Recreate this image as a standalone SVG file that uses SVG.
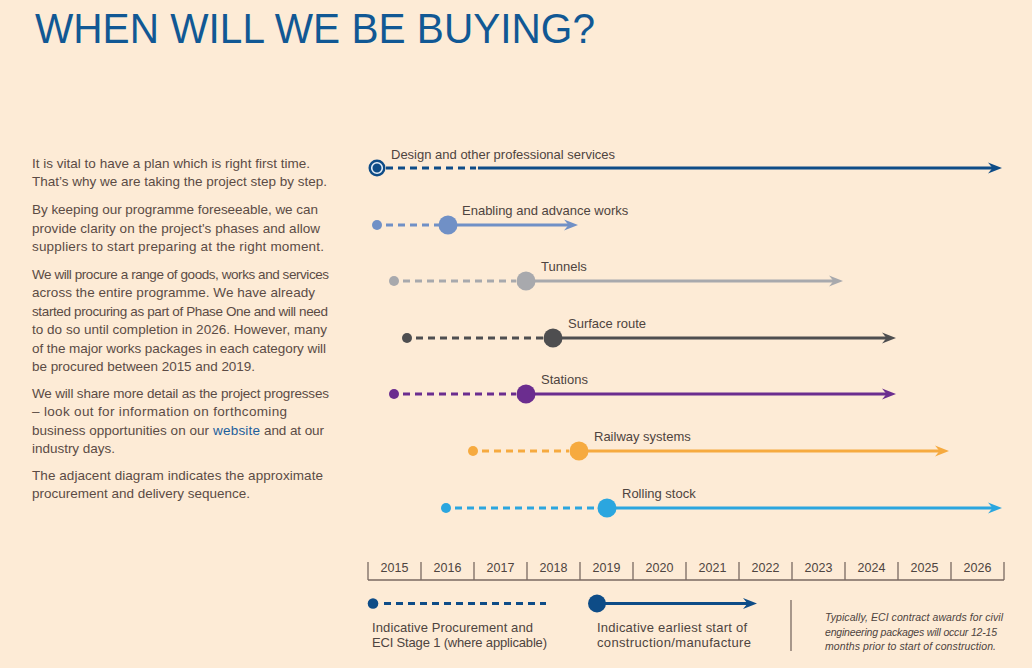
<svg xmlns="http://www.w3.org/2000/svg" xmlns:xlink="http://www.w3.org/1999/xlink" width="1032" height="668" viewBox="0 0 1032 668">
<style>
.title{font-family:"Liberation Sans",Arial,sans-serif;font-size:43px;fill:#115894}
.body{font-family:"Liberation Sans",Arial,sans-serif;font-size:13.5px;fill:#5b4b45}
.link{fill:#1d5f9c}
.lbl{font-family:"Liberation Sans",Arial,sans-serif;font-size:13px;fill:#4e4440}
.yr{font-family:"Liberation Sans",Arial,sans-serif;font-size:12.5px;fill:#4e4440;text-anchor:middle}
.note{font-family:"Liberation Sans",Arial,sans-serif;font-size:10.5px;font-style:italic;fill:#4e4440}
.dash{stroke-width:3;stroke-dasharray:7 5;fill:none}
.solid{stroke-width:3;fill:none}
.axis{stroke:#7a6a62;stroke-width:1.3;fill:none}
</style>
<defs>
<path id="ah" d="M0,0 L-14,-5.5 L-9.5,0 L-14,5.5 Z"/>
</defs>
<rect x="0" y="0" width="1032" height="668" fill="#fdebd6"/>
<text class="title" x="35" y="43" textLength="560" lengthAdjust="spacingAndGlyphs">WHEN WILL WE BE BUYING?</text>
<g id="intro">
<text class="body" x="32" y="167.5" textLength="278">It is vital to have a plan which is right first time.</text>
<text class="body" x="32" y="186" textLength="295">That’s why we are taking the project step by step.</text>
<text class="body" x="32" y="214" textLength="286">By keeping our programme foreseeable, we can</text>
<text class="body" x="32" y="232.5" textLength="288">provide clarity on the project's phases and allow</text>
<text class="body" x="32" y="251" textLength="292">suppliers to start preparing at the right moment.</text>
<text class="body" x="32" y="278.5" textLength="297">We will procure a range of goods, works and services</text>
<text class="body" x="32" y="297" textLength="283">across the entire programme. We have already</text>
<text class="body" x="32" y="315.5" textLength="296">started procuring as part of Phase One and will need</text>
<text class="body" x="32" y="334" textLength="295">to do so until completion in 2026. However, many</text>
<text class="body" x="32" y="352.5" textLength="294">of the major works packages in each category will</text>
<text class="body" x="32" y="371" textLength="223">be procured between 2015 and 2019.</text>
<text class="body" x="32" y="397.5" textLength="297">We will share more detail as the project progresses</text>
<text class="body" x="32" y="416" textLength="255">– look out for information on forthcoming</text>
<text class="body" x="32" y="434.5" textLength="177">business opportunities on our</text>
<text class="body link" x="213" y="434.5" textLength="47">website</text>
<text class="body" x="264" y="434.5" textLength="60">and at our</text>
<text class="body" x="32" y="453" textLength="83">industry days.</text>
<text class="body" x="32" y="479.5" textLength="291">The adjacent diagram indicates the approximate</text>
<text class="body" x="32" y="498" textLength="218">procurement and delivery sequence.</text>
</g>
<g id="connectors">
<line class="dash" x1="386" y1="168" x2="476" y2="168" stroke="#0e4c87"/>
<line class="solid" x1="478" y1="168" x2="993" y2="168" stroke="#0e4c87"/>
<use xlink:href="#ah" x="1002" y="168" fill="#0e4c87"/>
<line class="dash" x1="386" y1="225" x2="440" y2="225" stroke="#7090c6"/>
<line class="solid" x1="448" y1="225" x2="569" y2="225" stroke="#7090c6"/>
<use xlink:href="#ah" x="578" y="225" fill="#7090c6"/>
<line class="dash" x1="403" y1="281" x2="516" y2="281" stroke="#a8a9ad"/>
<line class="solid" x1="526" y1="281" x2="834" y2="281" stroke="#a8a9ad"/>
<use xlink:href="#ah" x="843" y="281" fill="#a8a9ad"/>
<line class="dash" x1="416" y1="338" x2="543" y2="338" stroke="#4e4e50"/>
<line class="solid" x1="553" y1="338" x2="887" y2="338" stroke="#4e4e50"/>
<use xlink:href="#ah" x="896" y="338" fill="#4e4e50"/>
<line class="dash" x1="403" y1="394" x2="516" y2="394" stroke="#6b2d8f"/>
<line class="solid" x1="526" y1="394" x2="887" y2="394" stroke="#6b2d8f"/>
<use xlink:href="#ah" x="896" y="394" fill="#6b2d8f"/>
<line class="dash" x1="482" y1="451" x2="569" y2="451" stroke="#f6aa3f"/>
<line class="solid" x1="579" y1="451" x2="940" y2="451" stroke="#f6aa3f"/>
<use xlink:href="#ah" x="949" y="451" fill="#f6aa3f"/>
<line class="dash" x1="455" y1="508" x2="597" y2="508" stroke="#2ba6df"/>
<line class="solid" x1="607" y1="508" x2="993" y2="508" stroke="#2ba6df"/>
<use xlink:href="#ah" x="1002" y="508" fill="#2ba6df"/>
</g>
<g id="design">
<circle cx="377" cy="168" r="8.5" fill="#0e4c87"/>
<circle cx="377" cy="168" r="5.3" fill="#0e4c87" stroke="#e6eef7" stroke-width="1.6"/>
<text class="lbl" x="391" y="159">Design and other professional services</text>
</g>
<g id="enabling">
<circle cx="377" cy="225" r="5" fill="#7090c6"/>
<circle cx="448" cy="225" r="9.5" fill="#7090c6"/>
<text class="lbl" x="462" y="215">Enabling and advance works</text>
</g>
<g id="tunnels">
<circle cx="394" cy="281" r="5" fill="#a8a9ad"/>
<circle cx="526" cy="281" r="9.5" fill="#a8a9ad"/>
<text class="lbl" x="541" y="271">Tunnels</text>
</g>
<g id="surface">
<circle cx="407" cy="338" r="5" fill="#4e4e50"/>
<circle cx="553" cy="338" r="9.5" fill="#4e4e50"/>
<text class="lbl" x="568" y="328">Surface route</text>
</g>
<g id="stations">
<circle cx="394" cy="394" r="5" fill="#6b2d8f"/>
<circle cx="526" cy="394" r="9.5" fill="#6b2d8f"/>
<text class="lbl" x="541" y="384">Stations</text>
</g>
<g id="railway">
<circle cx="473" cy="451" r="5" fill="#f6aa3f"/>
<circle cx="579" cy="451" r="9.5" fill="#f6aa3f"/>
<text class="lbl" x="594" y="441">Railway systems</text>
</g>
<g id="rolling">
<circle cx="446" cy="508" r="5" fill="#2ba6df"/>
<circle cx="607" cy="508" r="9.5" fill="#2ba6df"/>
<text class="lbl" x="622" y="498">Rolling stock</text>
</g>
<g id="axis">
<path class="axis" d="M368,580 H1004 M368,562 V580 M421,562 V580 M474,562 V580 M527,562 V580 M580,562 V580 M633,562 V580 M686,562 V580 M739,562 V580 M792,562 V580 M845,562 V580 M898,562 V580 M951,562 V580 M1004,562 V580"/>
<text class="yr" x="394.5" y="572">2015</text>
<text class="yr" x="447.5" y="572">2016</text>
<text class="yr" x="500.5" y="572">2017</text>
<text class="yr" x="553.5" y="572">2018</text>
<text class="yr" x="606.5" y="572">2019</text>
<text class="yr" x="659.5" y="572">2020</text>
<text class="yr" x="712.5" y="572">2021</text>
<text class="yr" x="765.5" y="572">2022</text>
<text class="yr" x="818.5" y="572">2023</text>
<text class="yr" x="871.5" y="572">2024</text>
<text class="yr" x="924.5" y="572">2025</text>
<text class="yr" x="977.5" y="572">2026</text>
</g>
<g id="legend">
<circle cx="373" cy="603.5" r="5.3" fill="#0e4c87"/>
<line class="dash" x1="384" y1="603.5" x2="546" y2="603.5" stroke="#0e4c87"/>
<circle cx="597" cy="603.5" r="9" fill="#0e4c87"/>
<line class="solid" x1="597" y1="603.5" x2="748" y2="603.5" stroke="#0e4c87"/>
<use xlink:href="#ah" x="757" y="603.5" fill="#0e4c87"/>
<text class="lbl" x="372" y="632" textLength="161">Indicative Procurement and</text>
<text class="lbl" x="372" y="647" textLength="175">ECI Stage 1 (where applicable)</text>
<text class="lbl" x="597" y="632" textLength="150">Indicative earliest start of</text>
<text class="lbl" x="597" y="647" textLength="154">construction/manufacture</text>
<line class="axis" x1="791" y1="600" x2="791" y2="651"/>
<text class="note" x="825" y="621" textLength="178">Typically, ECI contract awards for civil</text>
<text class="note" x="825" y="635.5" textLength="172">engineering packages will occur 12-15</text>
<text class="note" x="825" y="650" textLength="171">months prior to start of construction.</text>
</g>
</svg>
